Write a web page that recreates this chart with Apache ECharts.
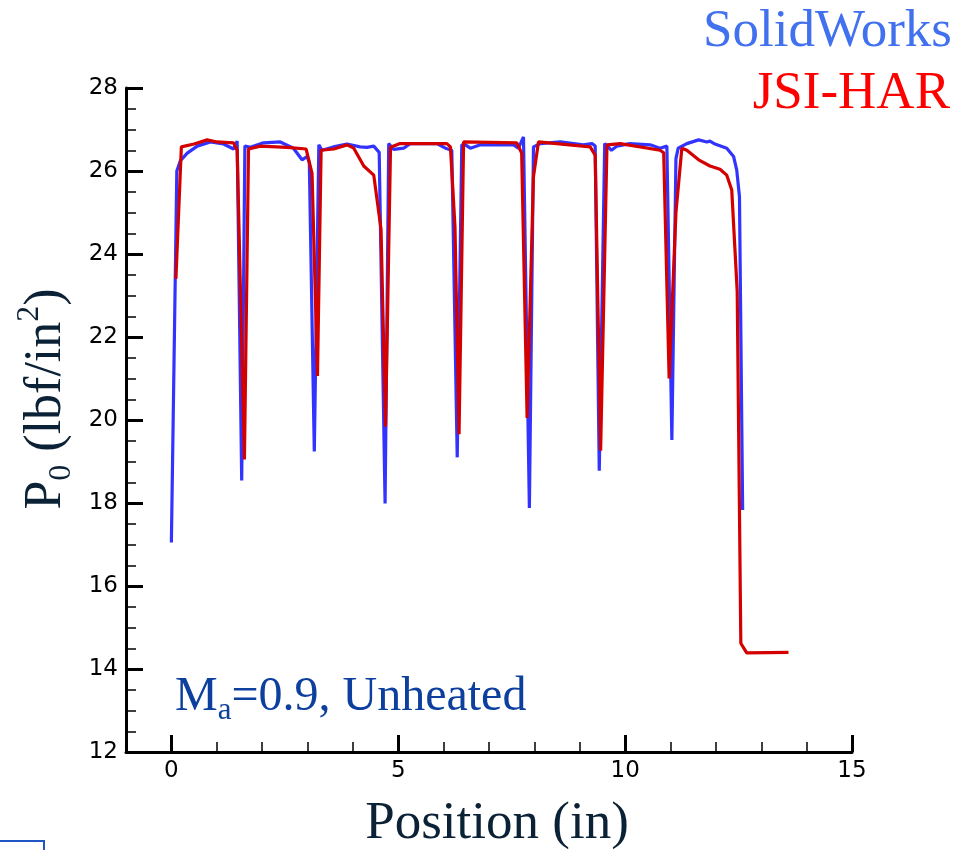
<!DOCTYPE html>
<html>
<head>
<meta charset="utf-8">
<script src="https://cdn.jsdelivr.net/npm/echarts@6/dist/echarts.min.js"></script>
<style>html,body{margin:0;padding:0;background:#fff;}#c{width:971px;height:850px;}</style>
</head>
<body>
<div id="c"></div>
<script>
// SolidWorks series
const swX = [0,0.12,0.2,0.35,0.57,0.86,1.15,1.37,1.45,1.55,
  1.62,1.74,2.03,2.40,2.69,2.88,2.99,3.04,3.15,3.25,
  3.32,3.57,3.87,4.16,4.31,4.46,4.58,4.71,4.79,4.9,
  5.12,5.26,5.85,6.04,6.18,6.30,6.40,6.48,6.59,6.81,
  7.54,7.65,7.76,7.89,7.98,8.13,8.57,9.08,9.27,9.34,
  9.43,9.55,9.7,9.82,10.1,10.55,10.77,10.92,11.03,11.12,
  11.17,11.36,11.62,11.8,11.87,11.98,12.24,12.39,12.46,12.52,12.59];
const swY = [17.05,26.0,26.25,26.43,26.6,26.7,26.65,26.53,26.72,18.54,
  26.6,26.57,26.68,26.7,26.55,26.27,26.35,26.2,19.24,26.63,
  26.5,26.58,26.65,26.58,26.57,26.6,26.45,17.99,26.66,26.52,
  26.55,26.66,26.66,26.55,26.5,19.1,26.63,26.63,26.55,26.63,
  26.63,26.55,26.82,17.88,26.58,26.66,26.7,26.63,26.66,26.6,
  18.78,26.66,26.5,26.6,26.66,26.63,26.55,26.6,19.52,26.3,
  26.55,26.66,26.75,26.7,26.72,26.65,26.55,26.35,26.02,25.38,17.83];
// JSI-HAR series
const jsiX = [0.1,0.22,0.5,0.79,1.0,1.37,1.45,1.61,1.70,1.96,
  2.55,2.97,3.1,3.22,3.3,3.58,3.87,4.02,4.24,4.46,
  4.62,4.72,4.83,5.04,6.07,6.15,6.25,6.34,6.44,7.61,
  7.72,7.84,7.98,8.09,9.23,9.34,9.46,9.6,9.89,10.77,
  10.85,10.97,11.12,11.25,11.36,11.62,11.87,12.09,12.24,12.35,
  12.47,12.55,12.68,13.6];
const jsiY = [23.4,26.58,26.65,26.75,26.7,26.68,26.5,19.05,26.53,26.6,
  26.57,26.53,25.94,21.06,26.5,26.53,26.63,26.55,26.12,25.9,
  24.6,19.84,26.57,26.66,26.66,26.58,24.66,19.66,26.7,26.68,
  26.43,20.05,25.86,26.7,26.58,26.38,19.26,26.63,26.66,26.5,
  26.44,21.0,25.0,26.55,26.5,26.27,26.12,26.04,25.9,25.54,
  23.1,14.62,14.39,14.4];
const xMajorTicks = [0,5,10,15];
const xMinorTicks = [1,2,3,4,6,7,8,9,11,12,13,14];
const seriesNames = ['SolidWorks','JSI-HAR'];

const swData = swX.map((x,i)=>[x,swY[i]]);
const jsiData = jsiX.map((x,i)=>[x,jsiY[i]]);

const serif = 'Liberation Serif';
const sans = 'DejaVu Sans';
const titleColor = '#0b2136';

const chart = echarts.init(document.getElementById('c'), null, {renderer:'canvas'});
chart.setOption({
  animation:false,
  backgroundColor:'#fff',
  grid:{left:126,right:119,top:88,bottom:98,containLabel:false},
  xAxis:[{
    type:'value',min:-1,max:15,
    axisLine:{show:true,onZero:false,lineStyle:{color:'#000',width:3}},
    axisTick:{show:true,inside:true,length:17,customValues:xMajorTicks,lineStyle:{color:'#000',width:3}},
    axisLabel:{show:true,customValues:xMajorTicks,color:'#000',fontFamily:sans,fontSize:23,margin:8},
    splitLine:{show:false}
  },{
    type:'value',min:-1,max:15,position:'bottom',
    axisLine:{show:false},
    axisTick:{show:true,inside:true,length:10,customValues:xMinorTicks,lineStyle:{color:'#000',width:1.5}},
    axisLabel:{show:false},
    splitLine:{show:false}
  }],
  yAxis:{
    type:'value',min:12,max:28,interval:2,
    axisLine:{show:true,onZero:false,lineStyle:{color:'#000',width:3}},
    axisTick:{show:true,inside:true,length:17,lineStyle:{color:'#000',width:3}},
    minorTick:{show:true,splitNumber:4,length:10,lineStyle:{color:'#000',width:1.5}},
    axisLabel:{color:'#000',fontFamily:sans,fontSize:23,margin:8},
    splitLine:{show:false},minorSplitLine:{show:false}
  },
  series:[
    {name:seriesNames[0],type:'line',data:swData,showSymbol:false,symbol:'none',
     lineStyle:{color:'#3333ff',width:3.2},itemStyle:{color:'#3333ff'},z:2},
    {name:seriesNames[1],type:'line',data:jsiData,showSymbol:false,symbol:'none',
     lineStyle:{color:'#d40000',width:3.2},itemStyle:{color:'#d40000'},z:3}
  ],
  graphic:[
    {type:'text',right:19,top:6,style:{text:'SolidWorks',font:'53px "Liberation Serif"',fill:'#4271f0'}},
    {type:'text',right:21,top:68,style:{text:'JSI-HAR',font:'53px "Liberation Serif"',fill:'#ff0000'}},
    {type:'text',x:175,y:697,style:{
      text:'{m|M}{s|a}{m|=0.9, Unheated}',align:'left',verticalAlign:'middle',
      rich:{
        m:{fontFamily:serif,fontSize:48,lineHeight:58,fill:'#0d3f9e',color:'#0d3f9e'},
        s:{fontFamily:serif,fontSize:31,lineHeight:31,verticalAlign:'bottom',fill:'#0d3f9e',color:'#0d3f9e'}
      }}},
    {type:'text',x:497,y:824,style:{text:'Position (in)',font:'53px "Liberation Serif"',fill:titleColor,align:'center',verticalAlign:'middle'}},
    {type:'text',x:46,y:399,rotation:Math.PI/2,style:{
      text:'{m|P}{s|0}{m| (lbf/in}{p|2}{m|)}',align:'center',verticalAlign:'middle',
      rich:{
        m:{fontFamily:serif,fontSize:52,lineHeight:64,fill:titleColor,color:titleColor},
        s:{fontFamily:serif,fontSize:32,lineHeight:32,verticalAlign:'bottom',fill:titleColor,color:titleColor},
        p:{fontFamily:serif,fontSize:32,lineHeight:32,verticalAlign:'top',fill:titleColor,color:titleColor}
      }}},
    {type:'rect',shape:{x:-10,y:841,width:54,height:30},style:{fill:'none',stroke:'#1f56c4',lineWidth:2}}
  ]
});
</script>
</body>
</html>
